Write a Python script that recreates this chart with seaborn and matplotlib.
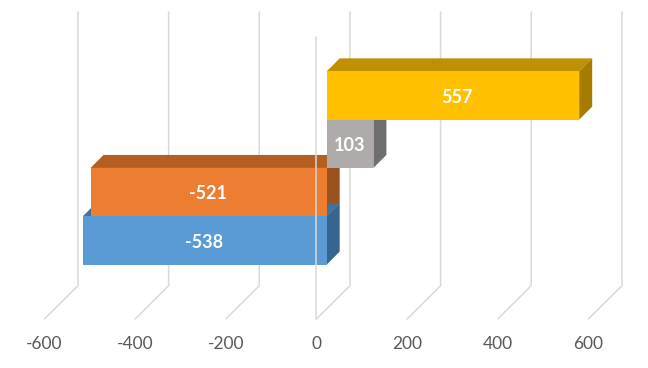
#!/usr/bin/env python3
"""Horizontal bar chart drawn with a fake 3D look (Excel style)."""

import matplotlib
matplotlib.use("Agg")
import matplotlib.pyplot as plt
import matplotlib.transforms as mtransforms
from matplotlib.patches import Polygon
import pandas as pd
import seaborn as sns

# data, top bar first
categories = ["D", "C", "B", "A"]
values = [557, 103, -521, -538]
x_ticks = [-600, -400, -200, 0, 200, 400, 600]

# colours
front_colors = ["#FFC000", "#AFABAB", "#ED7D31", "#5B9BD5"]
top_colors = ["#BF9000", "#7F7F7F", "#B55E22", "#41719C"]
side_colors = ["#A67C00", "#6E6E6E", "#9A521F", "#38658F"]
grid_color = "#D9D9D9"
tick_color = "#595959"

# layout, in pixels of the 648x368 picture
W, H = 648, 368
PX_PER_UNIT = 0.4533
BAR_ZERO_X = 326.7     # where value 0 sits on the bars' front face
FLOOR_Y = 319          # front edge of the floor
BACK_FLOOR_Y = 285.7
BACK_TOP_Y = 12
ZERO_TOP_Y = 37
FLOOR_DX = -10.3       # floor front edge relative to bar faces
BACK_DX = 23.2         # back wall relative to bar faces
BAR_DEPTH = 13
FIRST_BAR_Y = 95.5
BAR_STEP = 48.3
LABEL_NUDGE_X = [2.6, 0, -0.7, -0.7]   # points, the labels are not quite centred
LABEL_NUDGE_Y = -1.2

sns.set_theme(style="white")
plt.rcParams["font.family"] = ["Lato", "DejaVu Sans"]
plt.rcParams["axes.unicode_minus"] = False

df = pd.DataFrame({"category": categories, "value": values})

fig = plt.figure(figsize=(W / 100, H / 100), dpi=100)
ax = fig.add_axes([0, (H - FLOOR_Y) / H, 1, FLOOR_Y / H])

sns.barplot(data=df, x="value", y="category", hue="category", order=categories,
            hue_order=categories, palette=front_colors, saturation=1, width=1,
            dodge=False, legend=False, linewidth=0, zorder=3, ax=ax)

ax.set_xlim(-BAR_ZERO_X / PX_PER_UNIT, (W - BAR_ZERO_X) / PX_PER_UNIT)
ax.set_ylim((FLOOR_Y - FIRST_BAR_Y) / BAR_STEP, -FIRST_BAR_Y / BAR_STEP)
ax.set_xlabel("")
ax.set_ylabel("")
ax.set_yticks([])
ax.set_xticks(x_ticks)
ax.tick_params(axis="x", length=0, pad=12.3, labelsize=12.5, labelcolor=tick_color)
sns.despine(ax=ax, left=True, bottom=True)

# tick labels sit under the floor's front edge, not under the bar faces
for label in ax.get_xticklabels():
    label.set_transform(label.get_transform() + mtransforms.Affine2D().translate(FLOOR_DX, 0))

# gridlines: up the back wall and forward across the floor
for tick in x_ticks:
    x_px = ax.transData.transform((tick, 0))[0]
    xs = [x_px + FLOOR_DX, x_px + BACK_DX, x_px + BACK_DX]
    ys = [H - FLOOR_Y, H - BACK_FLOOR_Y, H - BACK_TOP_Y]
    ax.plot(xs, ys, color=grid_color, lw=1.1, transform=mtransforms.IdentityTransform(),
            clip_on=False, zorder=1)
    if tick == 0:
        # the zero line also stands at the front, over the bars
        ax.plot([x_px + FLOOR_DX] * 2, [H - FLOOR_Y, H - ZERO_TOP_Y], color=grid_color, lw=1.1,
                transform=mtransforms.IdentityTransform(), clip_on=False, zorder=4)

# depth faces from each bar's own rectangle
bars = [c[0] for c in ax.containers]
for i, bar in enumerate(bars):
    (x0, y0), (x1, y1) = ax.transData.transform(bar.get_bbox().get_points())
    left, right = min(x0, x1), max(x0, x1)
    low, high = min(y0, y1), max(y0, y1)
    top = [(left, high), (right, high), (right + BAR_DEPTH, high + BAR_DEPTH), (left + BAR_DEPTH, high + BAR_DEPTH)]
    side = [(right, low), (right + BAR_DEPTH, low + BAR_DEPTH), (right + BAR_DEPTH, high + BAR_DEPTH), (right, high)]
    ax.add_patch(Polygon(top, closed=True, fc=top_colors[i], ec="none", zorder=2 + i * 0.1,
                         transform=mtransforms.IdentityTransform(), clip_on=False))
    ax.add_patch(Polygon(side, closed=True, fc=side_colors[i], ec="none", zorder=2 + i * 0.1,
                         transform=mtransforms.IdentityTransform(), clip_on=False))

for i, container in enumerate(ax.containers):
    texts = ax.bar_label(container, fmt="%g", label_type="center", color="white",
                         fontweight="bold", fontsize=13, zorder=5)
    for text in texts:
        text.xyann = (LABEL_NUDGE_X[i], LABEL_NUDGE_Y)

fig.savefig("out.png", dpi=100, facecolor="white")
